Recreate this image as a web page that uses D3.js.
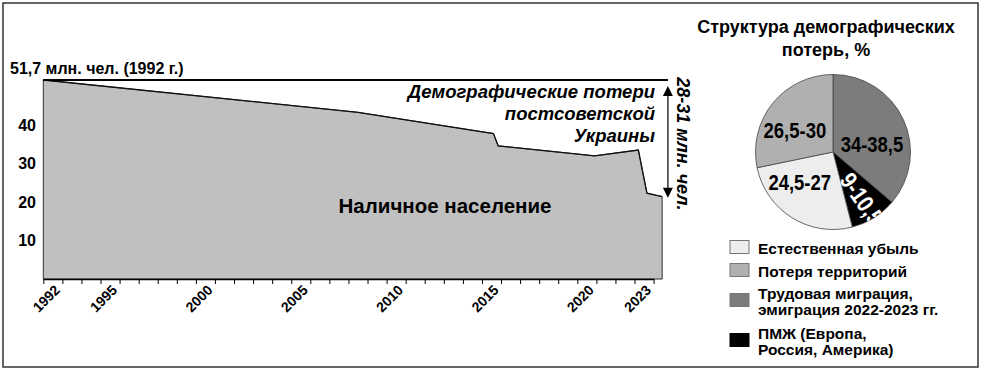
<!DOCTYPE html>
<html>
<head>
<meta charset="utf-8">
<script src="https://cdn.jsdelivr.net/npm/d3@7"></script>
<style>
  body { margin: 0; background: #fff; }
  svg { display: block; font-family: "Liberation Sans", Arial, sans-serif; font-weight: bold; }
</style>
</head>
<body>
<svg id="chart" width="982" height="371"></svg>
<script>
// population (mln), by fractional year
const popYears = [1992, 2008.5, 2015.6, 2015.85, 2020.9, 2023.2, 2023.65, 2024.45];
const popValues = [51.7, 43.3, 37.8, 34.6, 32.0, 33.5, 22.3, 21.4];
const yTicks = [10, 20, 30, 40];
const yearLabels = [1992, 1995, 2000, 2005, 2010, 2015, 2020, 2023];

// structure of losses, %
const lossCategories = ['Естественная убыль', 'Потеря территорий', 'Трудовая миграция,|эмиграция 2022-2023 гг.', 'ПМЖ (Европа,|Россия, Америка)'];
const lossLow = [24.5, 26.5, 34, 9];
const lossHigh = [27, 30, 38.5, 10.5];
const lossLabels = ['24,5-27', '26,5-30', '34-38,5', '9-10,5'];
const sliceOrder = [2, 3, 0, 1]; // clockwise from 12 o'clock
const lossColors = ['#ededed', '#b0b0b0', '#7c7c7c', '#000000'];

const svg = d3.select('#chart');
const W = 982, H = 371;

// frame
svg.append('rect')
    .attr('x', 3).attr('y', 3)
    .attr('width', W - 7).attr('height', H - 7)
    .attr('fill', 'none').attr('stroke', '#333').attr('stroke-width', 1.5);

const x = d3.scaleLinear().domain([1992, 2024]).range([43.3, 653.6]);
const y = d3.scaleLinear().domain([0, 51.7]).range([279, 80]);
const pop = popYears.map((yr, i) => ({ year: yr, value: popValues[i] }));
const last = pop[pop.length - 1];
const arrowX = x(2024.75);

// population area
const area = d3.area()
    .x(d => x(d.year))
    .y0(y(0))
    .y1(d => y(d.value));
svg.append('path')
    .datum(pop)
    .attr('d', area)
    .attr('fill', '#c0c0c0')
    .attr('stroke', '#333')
    .attr('stroke-width', 1);
svg.append('path')
    .datum(pop)
    .attr('d', d3.line().x(d => x(d.year)).y(d => y(d.value)))
    .attr('fill', 'none')
    .attr('stroke', '#111')
    .attr('stroke-width', 1.3);

// 1992 level line
svg.append('line')
    .attr('x1', x(1992)).attr('x2', arrowX)
    .attr('y1', y(popValues[0])).attr('y2', y(popValues[0]))
    .attr('stroke', '#000').attr('stroke-width', 2);
svg.append('text')
    .attr('x', 10).attr('y', y(popValues[0]) - 6)
    .attr('font-size', 16)
    .text('51,7 млн. чел. (1992 г.)');

// y tick labels
svg.selectAll('.ytick')
    .data(yTicks)
    .enter().append('text')
    .attr('class', 'ytick')
    .attr('x', 36)
    .attr('y', d => y(d))
    .attr('dy', '0.36em')
    .attr('text-anchor', 'end')
    .attr('font-size', 16)
    .text(d => d);

// x axis: ticks on year boundaries, labels in the middle of the year
const xAxis = svg.append('g')
    .attr('transform', `translate(0,${y(0)})`)
    .call(d3.axisBottom(x)
        .tickValues(d3.range(1992, 2025))
        .tickSize(5)
        .tickSizeOuter(0)
        .tickFormat(''));
xAxis.select('.domain').attr('stroke', '#000').attr('stroke-width', 1.5);
xAxis.selectAll('.tick line').attr('stroke', '#000');

svg.selectAll('.xlabel')
    .data(yearLabels)
    .enter().append('text')
    .attr('class', 'xlabel')
    .attr('text-anchor', 'end')
    .attr('font-size', 14)
    .attr('transform', d => `translate(${x(d + 0.5) + 8},${y(0) + 12}) rotate(-45)`)
    .text(d => d);

// losses arrow
const arrowTop = y(popValues[0]) + 6;
const arrowBot = y(last.value) + 1;
svg.append('line')
    .attr('x1', arrowX).attr('x2', arrowX)
    .attr('y1', arrowTop + 8).attr('y2', arrowBot - 8)
    .attr('stroke', '#000').attr('stroke-width', 1.2);
svg.append('path')
    .attr('d', `M${arrowX},${arrowTop}l-5,10h10z`)
    .attr('fill', '#000');
svg.append('path')
    .attr('d', `M${arrowX},${arrowBot}l-5,-10h10z`)
    .attr('fill', '#000');
svg.append('text')
    .attr('transform', `translate(${arrowX + 9},${(arrowTop + arrowBot) / 2 + 2}) rotate(90)`)
    .attr('text-anchor', 'middle')
    .attr('font-size', 18)
    .attr('font-style', 'italic')
    .text('28-31 млн. чел.');

svg.selectAll('.losstext')
    .data(['Демографические потери', 'постсоветской', 'Украины'])
    .enter().append('text')
    .attr('class', 'losstext')
    .attr('x', 655)
    .attr('y', (d, i) => 98 + i * 22)
    .attr('text-anchor', 'end')
    .attr('font-size', 18.5)
    .attr('font-style', 'italic')
    .text(d => d);

svg.append('text')
    .attr('x', 445).attr('y', 213)
    .attr('text-anchor', 'middle')
    .attr('font-size', 20.5)
    .text('Наличное население');

// pie
const cx = 833, cy = 152, R = 77.5;
svg.selectAll('.ptitle')
    .data(['Структура демографических', 'потерь, %'])
    .enter().append('text')
    .attr('class', 'ptitle')
    .attr('x', 826)
    .attr('y', (d, i) => 33 + i * 23)
    .attr('text-anchor', 'middle')
    .attr('font-size', 18)
    .text(d => d);

const slices = sliceOrder.map(i => ({
    idx: i,
    value: (lossLow[i] + lossHigh[i]) / 2
}));
const pie = d3.pie().sort(null).value(d => d.value);
const arcs = pie(slices);
const arc = d3.arc().innerRadius(0).outerRadius(R);
const pieG = svg.append('g').attr('transform', `translate(${cx},${cy})`);

svg.append('clipPath').attr('id', 'pieclip')
    .append('circle').attr('cx', 0).attr('cy', 0).attr('r', R);

pieG.selectAll('path')
    .data(arcs)
    .enter().append('path')
    .attr('d', arc)
    .attr('fill', d => lossColors[d.data.idx])
    .attr('stroke', '#444')
    .attr('stroke-width', 0.8);

// label radius and nudges, in slice order
const labelR = [44, 55, 44, 44];
const labelNudge = [[-1, 10], [0, 0], [-10, -7], [-4, 6]];
const labelRot = [0, 55, 0, 0];
pieG.append('g')
    .attr('clip-path', 'url(#pieclip)')
    .selectAll('text')
    .data(arcs)
    .enter().append('text')
    .attr('transform', (d, i) => {
        const c = d3.arc().innerRadius(labelR[i]).outerRadius(labelR[i]).centroid(d);
        return `translate(${c[0] + labelNudge[i][0]},${c[1] + labelNudge[i][1]}) rotate(${labelRot[i]}) scale(0.84,1)`;
    })
    .attr('text-anchor', 'middle')
    .attr('dy', '0.36em')
    .attr('font-size', d => d.data.idx === 3 ? 24 : 22)
    .attr('fill', d => d.data.idx === 3 ? '#fff' : '#000')
    .text(d => lossLabels[d.data.idx]);

// legend
const legend = svg.append('g');
let base = 254;
lossCategories.forEach((name, i) => {
    const lines = name.split('|');
    legend.append('rect')
        .attr('x', 730)
        .attr('y', base - 7 + (lines.length - 1) * 7 - 6.5)
        .attr('width', 19).attr('height', 13)
        .attr('fill', lossColors[i])
        .attr('stroke', i === 3 ? '#000' : '#777')
        .attr('stroke-width', 1);
    const t = legend.append('text')
        .attr('x', 758)
        .attr('y', base - (lines.length - 1))
        .attr('font-size', 15.5);
    lines.forEach((ln, j) => {
        t.append('tspan')
            .attr('x', 758)
            .attr('dy', j === 0 ? 0 : 16)
            .text(ln);
    });
    base += lines.length * 14 + 9 + (lines.length - 1) * 3;
});
</script>
</body>
</html>
